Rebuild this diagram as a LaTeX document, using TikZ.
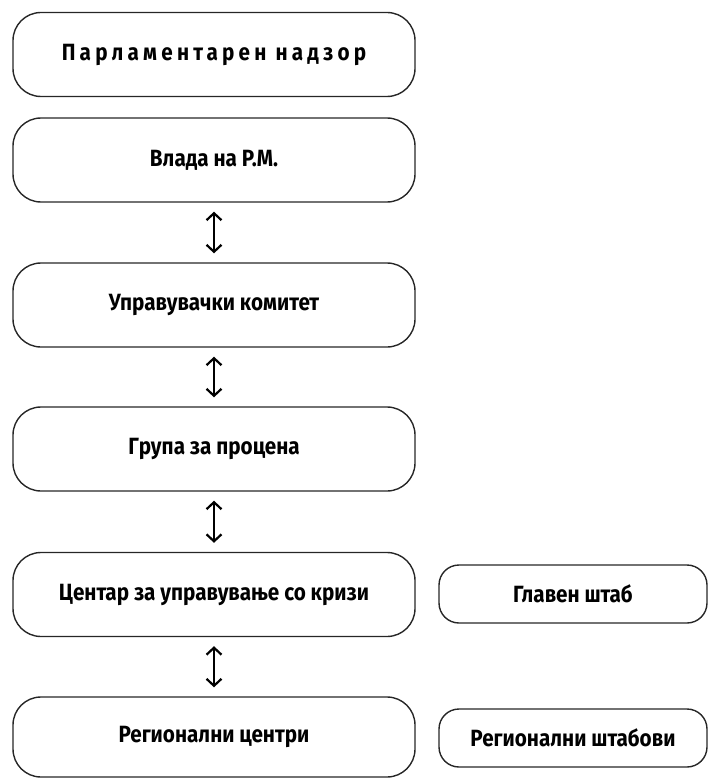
\documentclass[tikz,border=0pt]{standalone}
\usepackage{fontspec}
\setmainfont{Fira Sans}[FakeStretch=0.88]
\usetikzlibrary{arrows.meta}
\tikzset{
  mainbox/.style={draw=black!85, line width=1.4pt, rounded corners=28pt, minimum width=402pt, minimum height=84pt, inner sep=0pt, font=\fontsize{23.5}{27}\selectfont\bfseries},
  sidebox/.style={draw=black!85, line width=1.4pt, rounded corners=20pt, minimum width=268pt, minimum height=58pt, inner sep=0pt, font=\fontsize{23.5}{27}\selectfont\bfseries},
  biarrow/.style={line width=2.2pt, {Straight Barb[length=7pt,width=15pt]}-{Straight Barb[length=7pt,width=15pt]}, shorten >=9pt, shorten <=9pt}
}
\begin{document}
\begin{tikzpicture}[x=1pt,y=-1pt]
\useasboundingbox (0,0) rectangle (709,778);
\node[mainbox] (b1) at (214,54.5) {\addfontfeature{LetterSpace=18}Парламентарен надзор};
\node[mainbox] (b2) at (214,160) {Влада на Р.М.};
\node[mainbox] (b3) at (214,305) {Управувачки комитет};
\node[mainbox] (b4) at (214,449) {Група за процена};
\node[mainbox] (b5) at (214,594.5) {Центар за управување со кризи};
\node[mainbox, minimum height=80pt] (b6) at (214,737) {Регионални центри};
\node[sidebox] (s1) at (573,594) {Главен штаб};
\node[sidebox] (s2) at (573,738) {Регионални штабови};
\draw[biarrow] (b2) -- (b3);
\draw[biarrow] (b3) -- (b4);
\draw[biarrow] (b4) -- (b5);
\draw[biarrow] (b5) -- (b6);
\end{tikzpicture}
\end{document}
